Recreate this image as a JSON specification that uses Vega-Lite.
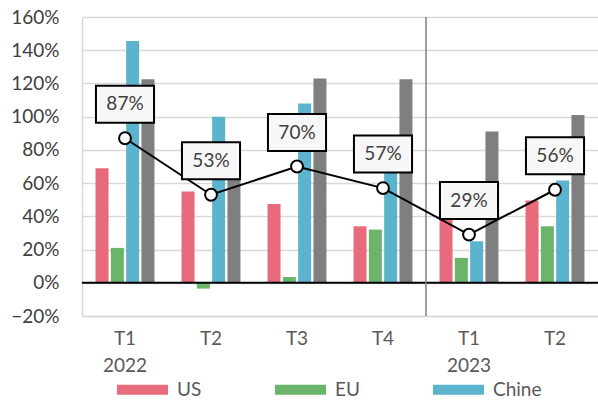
{
  "$schema": "https://vega.github.io/schema/vega-lite/v6.json",
  "width": 516,
  "height": 299,
  "autosize": {"type": "none"},
  "padding": {"left": 82, "top": 17, "right": 0, "bottom": 84},
  "config": {
    "view": {"stroke": null},
    "font": "Lato",
    "axisY": {"ticks": false, "labelOverlap": false, "labelFontSize": 19, "labelColor": "#404040", "labelPadding": 23, "gridColor": "#D9D9D9", "gridWidth": 1.5, "domainColor": "#D9D9D9", "domainWidth": 1.5, "title": null},
    "axisX": {"ticks": false, "domainColor": "#D9D9D9", "domainWidth": 1.5, "labelAngle": 0, "labelFontSize": 19, "labelColor": "#595959", "labelPadding": 13, "labelLineHeight": 27, "title": null}
  },
  "datasets": {
    "bars": [
      {"q": "T1 2022", "s": "US", "v": 0.69}, {"q": "T1 2022", "s": "EU", "v": 0.21}, {"q": "T1 2022", "s": "Chine", "v": 1.455}, {"q": "T1 2022", "s": "Monde", "v": 1.225},
      {"q": "T2 2022", "s": "US", "v": 0.55}, {"q": "T2 2022", "s": "EU", "v": -0.035}, {"q": "T2 2022", "s": "Chine", "v": 1.0}, {"q": "T2 2022", "s": "Monde", "v": 0.775},
      {"q": "T3 2022", "s": "US", "v": 0.475}, {"q": "T3 2022", "s": "EU", "v": 0.035}, {"q": "T3 2022", "s": "Chine", "v": 1.08}, {"q": "T3 2022", "s": "Monde", "v": 1.23},
      {"q": "T4 2022", "s": "US", "v": 0.34}, {"q": "T4 2022", "s": "EU", "v": 0.32}, {"q": "T4 2022", "s": "Chine", "v": 0.70}, {"q": "T4 2022", "s": "Monde", "v": 1.225},
      {"q": "T1 2023", "s": "US", "v": 0.55}, {"q": "T1 2023", "s": "EU", "v": 0.15}, {"q": "T1 2023", "s": "Chine", "v": 0.25}, {"q": "T1 2023", "s": "Monde", "v": 0.91},
      {"q": "T2 2023", "s": "US", "v": 0.495}, {"q": "T2 2023", "s": "EU", "v": 0.34}, {"q": "T2 2023", "s": "Chine", "v": 0.615}, {"q": "T2 2023", "s": "Monde", "v": 1.01}
    ],
    "line": [
      {"q": "T1 2022", "r": 0.87}, {"q": "T2 2022", "r": 0.53}, {"q": "T3 2022", "r": 0.70},
      {"q": "T4 2022", "r": 0.57}, {"q": "T1 2023", "r": 0.29}, {"q": "T2 2023", "r": 0.56}
    ]
  },
  "layer": [
    {
      "data": {"name": "bars"},
      "mark": {"type": "bar"},
      "encoding": {
        "x": {
          "field": "q", "type": "nominal", "sort": null,
          "scale": {"domain": ["T1 2022", "T2 2022", "T3 2022", "T4 2022", "T1 2023", "T2 2023"], "paddingInner": 0, "paddingOuter": 0},
          "axis": {"title": null, "labelExpr": "indexof(datum.value, 'T1') == 0 ? split(datum.value, ' ') : split(datum.value, ' ')[0]"}
        },
        "xOffset": {
          "field": "s", "type": "nominal", "sort": null,
          "scale": {"domain": ["US", "EU", "Chine", "Monde"], "paddingInner": 0.15, "paddingOuter": 0.885}
        },
        "y": {
          "field": "v", "type": "quantitative",
          "scale": {"domain": [-0.2, 1.6], "nice": false},
          "axis": {"title": null, "values": [-0.2, 0, 0.2, 0.4, 0.6, 0.8, 1.0, 1.2, 1.4, 1.6], "format": ".0%", "labelOverlap": false}
        },
        "color": {
          "field": "s", "type": "nominal",
          "scale": {"domain": ["US", "EU", "Chine", "Monde"], "range": ["#E86A7D", "#6AB56A", "#5BB3CD", "#7F7F7F"]},
          "legend": {
            "title": null, "orient": "none", "direction": "horizontal", "legendX": 35, "legendY": 347,
            "values": ["US", "EU", "Chine"],
            "symbolType": "M-1,-0.2L1,-0.2L1,0.2L-1,0.2Z", "symbolSize": 2601, "symbolStrokeWidth": 0,
            "labelFontSize": 19, "labelColor": "#595959", "labelOffset": 9, "columnPadding": 73, "padding": 0
          }
        }
      }
    },
    {
      "data": {"values": [{}]},
      "mark": {"type": "rule", "color": "#000000", "strokeWidth": 2},
      "encoding": {"y": {"datum": 0, "type": "quantitative", "axis": {"title": null, "values": [-0.2, 0, 0.2, 0.4, 0.6, 0.8, 1.0, 1.2, 1.4, 1.6], "format": ".0%", "labelOverlap": false}}}
    },
    {
      "data": {"values": [{}]},
      "mark": {"type": "rule", "color": "#7F7F7F", "strokeWidth": 1.5},
      "encoding": {"x": {"datum": "T1 2023", "type": "nominal", "bandPosition": 0, "axis": {"title": null, "labelExpr": "indexof(datum.value, 'T1') == 0 ? split(datum.value, ' ') : split(datum.value, ' ')[0]"}}}
    },
    {
      "data": {"name": "line"},
      "mark": {"type": "line", "color": "#000000", "strokeWidth": 2},
      "encoding": {
        "x": {"field": "q", "type": "nominal", "sort": null, "axis": {"title": null, "labelExpr": "indexof(datum.value, 'T1') == 0 ? split(datum.value, ' ') : split(datum.value, ' ')[0]"}},
        "y": {"field": "r", "type": "quantitative", "axis": {"title": null, "values": [-0.2, 0, 0.2, 0.4, 0.6, 0.8, 1.0, 1.2, 1.4, 1.6], "format": ".0%", "labelOverlap": false}}
      }
    },
    {
      "data": {"name": "line"},
      "mark": {"type": "point", "shape": "circle", "filled": true, "fill": "#FFFFFF", "stroke": "#000000", "strokeWidth": 2, "size": 140, "opacity": 1},
      "encoding": {
        "x": {"field": "q", "type": "nominal", "sort": null, "axis": {"title": null, "labelExpr": "indexof(datum.value, 'T1') == 0 ? split(datum.value, ' ') : split(datum.value, ' ')[0]"}},
        "y": {"field": "r", "type": "quantitative", "axis": {"title": null, "values": [-0.2, 0, 0.2, 0.4, 0.6, 0.8, 1.0, 1.2, 1.4, 1.6], "format": ".0%", "labelOverlap": false}}
      }
    },
    {
      "data": {"name": "line"},
      "mark": {"type": "point", "shape": "M-1.57,-1L1.57,-1L1.57,1L-1.57,1Z", "filled": true, "fill": "#F7F7F7", "stroke": "#000000", "strokeWidth": 2, "size": 1369, "opacity": 1, "yOffset": -34},
      "encoding": {
        "x": {"field": "q", "type": "nominal", "sort": null, "axis": {"title": null, "labelExpr": "indexof(datum.value, 'T1') == 0 ? split(datum.value, ' ') : split(datum.value, ' ')[0]"}},
        "y": {"field": "r", "type": "quantitative", "axis": {"title": null, "values": [-0.2, 0, 0.2, 0.4, 0.6, 0.8, 1.0, 1.2, 1.4, 1.6], "format": ".0%", "labelOverlap": false}}
      }
    },
    {
      "data": {"name": "line"},
      "mark": {"type": "text", "fontSize": 19, "color": "#404040", "baseline": "middle", "align": "center", "yOffset": -34},
      "encoding": {
        "x": {"field": "q", "type": "nominal", "sort": null, "axis": {"title": null, "labelExpr": "indexof(datum.value, 'T1') == 0 ? split(datum.value, ' ') : split(datum.value, ' ')[0]"}},
        "y": {"field": "r", "type": "quantitative", "axis": {"title": null, "values": [-0.2, 0, 0.2, 0.4, 0.6, 0.8, 1.0, 1.2, 1.4, 1.6], "format": ".0%", "labelOverlap": false}},
        "text": {"field": "r", "type": "quantitative", "format": ".0%"}
      }
    }
  ]
}
